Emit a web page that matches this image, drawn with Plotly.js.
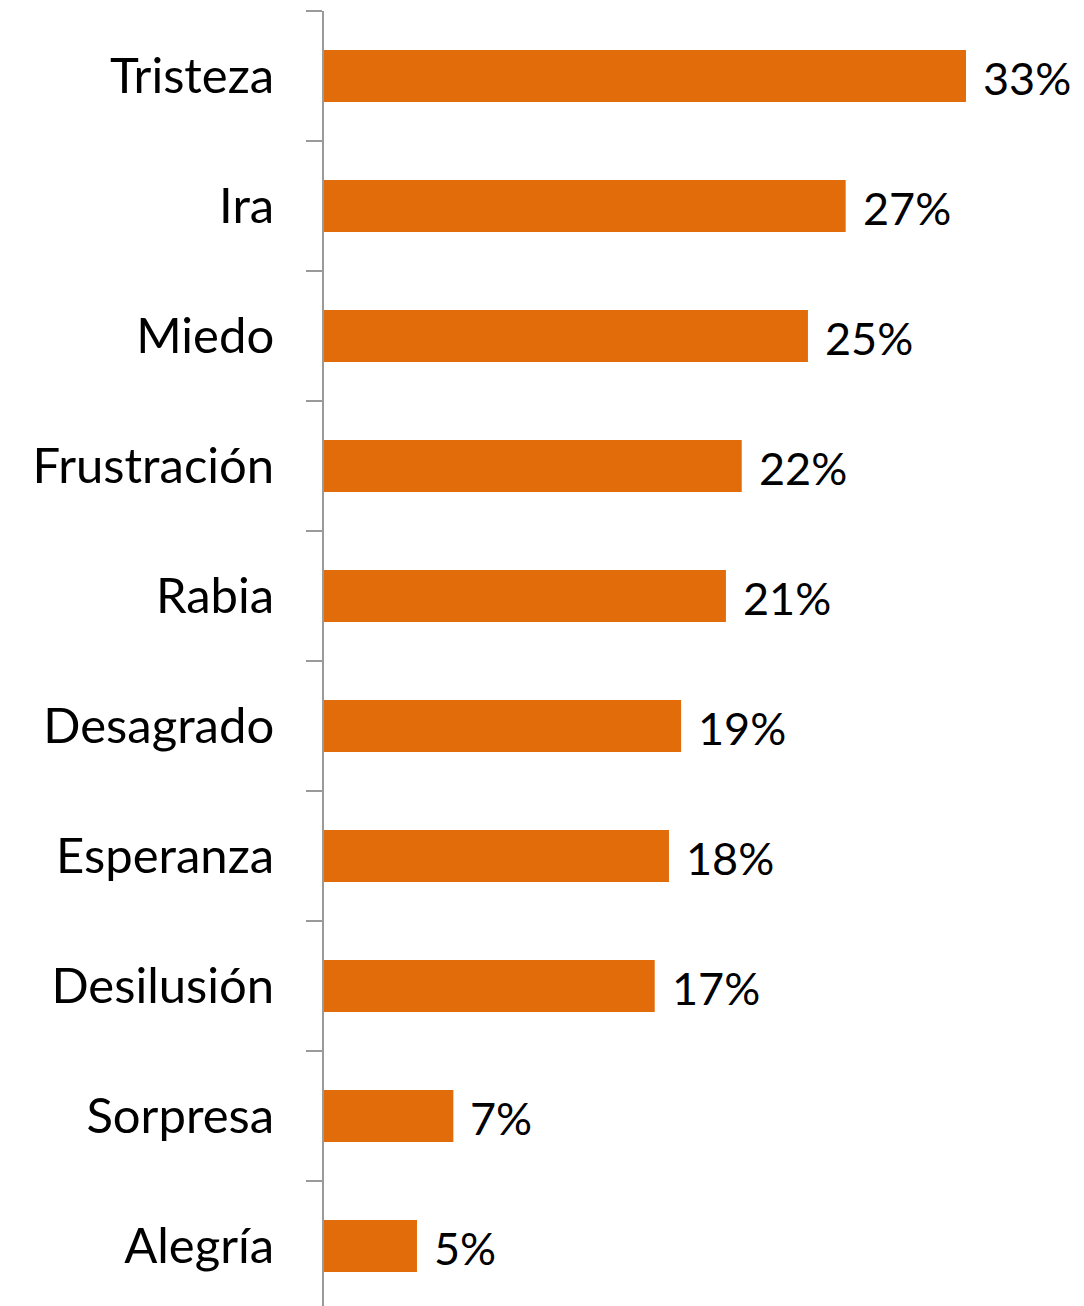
<!DOCTYPE html>
<html>
<head>
<meta charset="utf-8">
<script src="https://cdn.plot.ly/plotly-3.0.1.min.js"></script>
<style>
html, body { margin: 0; padding: 0; background: #fff; overflow: hidden; }
#chart { width: 1084px; height: 1306px; }
</style>
</head>
<body>
<div id="chart"></div>
<script>
// Categories, top to bottom
const categories = ["Tristeza", "Ira", "Miedo", "Frustración", "Rabia",
                    "Desagrado", "Esperanza", "Desilusión", "Sorpresa", "Alegría"];
// Share of mentions (%); labels show them rounded
const values = [33.35, 27.1, 25.14, 21.7, 20.88, 18.55, 17.92, 17.18, 6.72, 4.83];

const barColor = "#E36C0A";
const axisColor = "#9A9A9A";

const trace = {
  type: "bar",
  orientation: "h",
  y: categories,
  x: values,
  marker: { color: barColor, line: { width: 0 } },
  hoverinfo: "none",
  cliponaxis: false
};

const annotations = categories.map((c, i) => ({
  x: values[i],
  y: c,
  xref: "x",
  yref: "y",
  text: Math.round(values[i]) + "%",
  showarrow: false,
  xanchor: "left",
  yanchor: "middle",
  xshift: 15,
  yshift: -2,
  font: { family: "Lato, 'Noto Sans', sans-serif", size: 45, color: "#000" }
}));

const nCat = categories.length;
const layout = {
  width: 1084,
  height: 1306,
  margin: { l: 324, r: 0, t: 11, b: 0, pad: 0 },
  paper_bgcolor: "#ffffff",
  plot_bgcolor: "#ffffff",
  showlegend: false,
  bargap: 0.6,
  xaxis: {
    range: [0, 760 / 19.25],
    visible: false,
    showgrid: false,
    zeroline: false,
    fixedrange: true
  },
  yaxis: {
    type: "category",
    categoryorder: "array",
    categoryarray: categories,
    range: [nCat - 1 + 0.5 - 5 / 130, -0.5],
    showline: true,
    linecolor: axisColor,
    linewidth: 2,
    ticks: "outside",
    tickson: "boundaries",
    ticklen: 16,
    tickwidth: 2,
    tickcolor: axisColor,
    showgrid: false,
    zeroline: false,
    ticklabelstandoff: 38,
    tickfont: { family: "Lato, 'Noto Sans', sans-serif", size: 49, color: "#000" },
    fixedrange: true
  },
  annotations: annotations
};

Plotly.newPlot("chart", [trace], layout, { staticPlot: true, displayModeBar: false });
</script>
</body>
</html>
